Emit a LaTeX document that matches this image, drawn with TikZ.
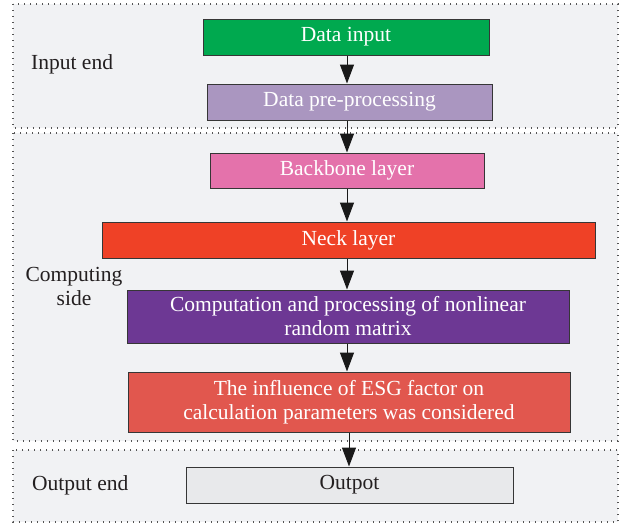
\documentclass[tikz,border=0pt]{standalone}
\usepackage{fontspec}
\setmainfont{Liberation Serif}
\usetikzlibrary{arrows.meta}
\definecolor{panelfill}{HTML}{F1F2F4}
\definecolor{panelline}{HTML}{555555}
\definecolor{boxline}{HTML}{363636}
\definecolor{cgreen}{HTML}{00A94F}
\definecolor{cpre}{HTML}{AA96C0}
\definecolor{cback}{HTML}{E472AB}
\definecolor{cneck}{HTML}{EF4126}
\definecolor{cpurple}{HTML}{6D3894}
\definecolor{cesg}{HTML}{E1574E}
\definecolor{cout}{HTML}{E8E9EB}
\definecolor{txt}{HTML}{231F20}
\begin{document}
\begin{tikzpicture}[x=1pt,y=-1pt,
  panel/.style={draw=panelline,fill=panelfill,line width=1.1pt,dash pattern=on 1.2pt off 4.8pt},
  flowbox/.style={draw=boxline,line width=1pt,rectangle,inner sep=0pt,align=center,
    text=white,font=\fontsize{21.5}{24}\selectfont},
  lbl/.style={text=txt,align=center,inner sep=0pt,font=\fontsize{21.5}{24}\selectfont},
  flow/.style={draw=black!90,line width=1pt,-{Triangle[length=19pt,width=14pt]}}]
\useasboundingbox (0,0) rectangle (622,525);
\fill[white] (0,0) rectangle (622,525);
% panels
\path[panel] (13,4) rectangle (618,128);
\path[panel] (13,133) rectangle (618,441);
\path[panel] (13,450) rectangle (618,522);
% labels
\node[lbl,anchor=west] (linput) at (31,64) {Input end};
\node[lbl] (lcomp) at (74,286) {Computing\\side};
\node[lbl,anchor=west] (lout) at (32,485) {Output end};
% boxes
\node[flowbox,fill=cgreen,minimum width=286pt,minimum height=36pt] (din) at (346,37) {Data input};
\node[flowbox,fill=cpre,minimum width=285pt,minimum height=36pt] (pre) at (349.5,102) {Data pre-processing};
\node[flowbox,fill=cback,minimum width=274pt,minimum height=35pt] (back) at (347,170.5) {Backbone layer};
\node[flowbox,fill=cneck,minimum width=493pt,minimum height=36pt] (neck) at (348.5,240) {Neck layer};
\node[flowbox,fill=cpurple,minimum width=442pt,minimum height=53pt] (comp) at (348,316.5) {Computation and processing of nonlinear\\random matrix};
\node[flowbox,fill=cesg,minimum width=442pt,minimum height=60pt] (esg) at (349,402) {The influence of ESG factor on\\calculation parameters was considered};
\node[flowbox,fill=cout,text=txt,minimum width=327pt,minimum height=36pt] (outp) at (349.5,485) {Outpot};
% arrows
\coordinate (a1) at (347,0);
\draw[flow] (din.south -| a1) -- (pre.north -| a1);
\draw[flow] (pre.south -| a1) -- (back.north -| a1);
\draw[flow] (back.south -| a1) -- (neck.north -| a1);
\draw[flow] (neck.south -| a1) -- (comp.north -| a1);
\draw[flow] (comp.south -| a1) -- (esg.north -| a1);
\coordinate (a2) at (349,0);
\draw[flow] (esg.south -| a2) -- (outp.north -| a2);
\end{tikzpicture}
\end{document}
